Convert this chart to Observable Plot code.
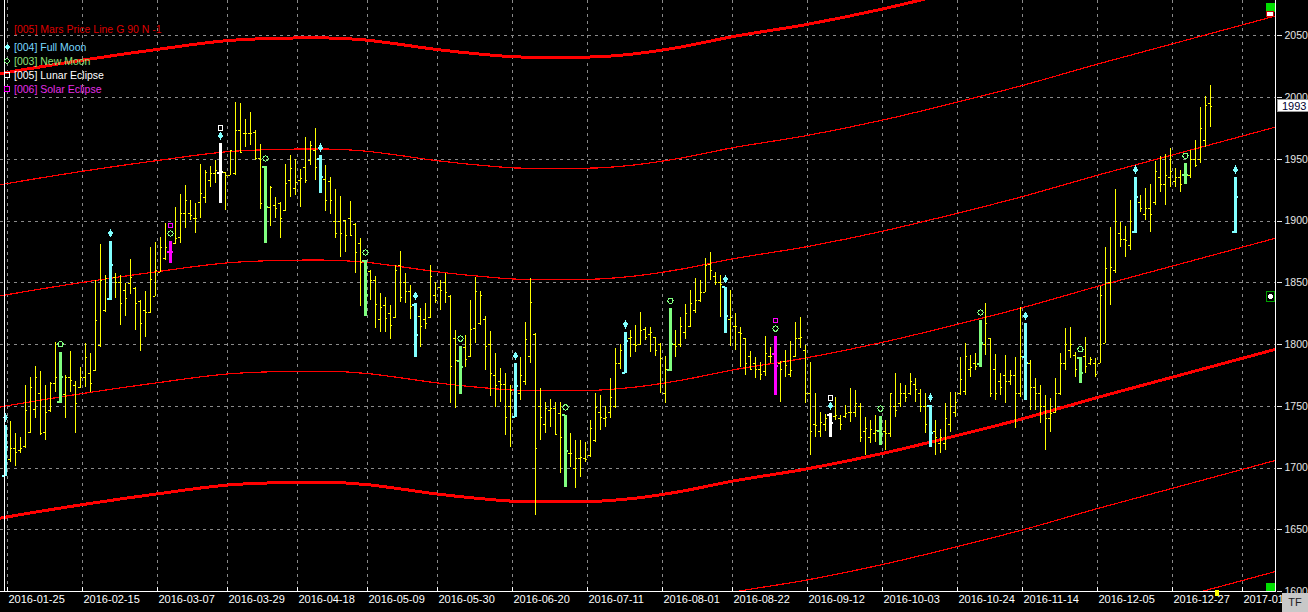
<!DOCTYPE html>
<html><head><meta charset="utf-8">
<script src="https://cdn.jsdelivr.net/npm/d3@7"></script>
<script src="https://cdn.jsdelivr.net/npm/@observablehq/plot@0.6"></script>
<style>
html,body{margin:0;padding:0;background:#000;}
#wrap{position:relative;width:1308px;height:612px;overflow:hidden;background:#000;font-family:"Liberation Sans",Arial,sans-serif;}
#wrap svg{display:block;shape-rendering:crispEdges;}
.lg{position:absolute;left:14px;font-size:10.5px;line-height:14px;white-space:nowrap;}
.mk{position:absolute;left:4px;}
.abs{position:absolute;}
</style></head><body><div id="wrap"></div><script>
// ---- OHLC bars (one per trading day, index 0 = 2016-01-25) ----
const opens = [1693.9,1706.6,1715.6,1714.2,1717.4,1729.1,1747.1,1760.1,1729.1,1746.6,
1768.2,1753.4,1759.6,1773.6,1766.9,1765.5,1773.6,1776.3,1779.0,1799.3,
1827.6,1837.1,1854.6,1850.6,1843.8,1849.2,1845.1,1835.2,1827.6,1826.3,
1839.2,1858.6,1869.5,1874.9,1881.6,1887.0,1905.9,1905.9,1901.8,1915.4,
1919.4,1932.9,1938.3,1938.8,1939.1,1937.0,1938.3,1973.4,1971.2,1971.2,
1972.0,1950.5,1944.2,1911.3,1912.6,1914.5,1908.6,1932.9,1926.2,1932.9,
1943.7,1949.1,1957.2,1950.0,1933.4,1932.0,1900.0,1900.0,1900.5,1902.0,
1897.0,1881.6,1867.6,1859.5,1852.0,1820.0,1831.7,1825.0,1822.0,1864.0,
1850.0,1843.0,1832.2,1823.0,1820.0,1822.0,1840.0,1846.0,1850.0,1839.0,
1805.0,1786.6,1798.0,1790.0,1813.0,1817.0,1820.0,1800.0,1775.0,1770.0,
1768.0,1750.0,1741.7,1760.0,1770.0,1790.0,1808.0,1750.0,1735.0,1747.0,
1748.0,1744.0,1742.6,1712.0,1700.0,1708.0,1708.0,1710.0,1722.0,1745.0,
1740.0,1745.0,1750.0,1785.0,1776.8,1805.0,1800.0,1800.0,1812.0,1808.0,
1806.0,1800.0,1760.0,1779.5,1800.0,1800.0,1810.0,1815.0,1828.0,1836.0,
1842.5,1865.0,1855.0,1850.0,1846.5,1820.0,1815.0,1810.0,1804.7,1790.0,
1785.0,1780.0,1778.0,1790.0,1792.0,1785.0,1786.0,1776.0,1790.0,1805.0,
1795.0,1760.0,1735.0,1730.0,1735.0,1742.6,1742.0,1740.0,1742.0,1745.0,
1745.0,1750.0,1730.0,1725.0,1728.0,1730.4,1730.0,1728.0,1750.0,1752.0,
1760.0,1760.0,1768.0,1760.0,1750.0,1750.1,1730.0,1720.0,1720.0,1735.0,
1745.0,1760.0,1762.0,1780.0,1785.0,1783.9,1800.0,1804.7,1780.0,1770.0,
1775.0,1770.0,1775.0,1760.0,1790.3,1785.0,1765.0,1760.0,1750.0,1740.0,
1745.0,1760.0,1785.0,1795.0,1791.0,1789.3,1790.0,1785.0,1785.0,1785.0,
1800.6,1850.0,1860.0,1890.0,1885.0,1880.0,1891.0,1915.0,1905.0,1910.0,
1915.0,1935.0,1930.0,1935.0,1932.0,1935.0,1937.0,1937.0,1950.0,1950.0,
1965.0,1995.0];
const highs = [1734.4,1737.7,1727.7,1725.0,1766.9,1773.6,1782.2,1778.2,1766.9,1769.6,
1801.4,1793.9,1775.0,1794.4,1770.4,1781.7,1800.6,1792.5,1851.9,1881.1,
1855.9,1883.8,1857.3,1855.9,1849.2,1868.9,1846.5,1835.7,1843.3,1878.9,
1883.0,1887.0,1897.8,1883.5,1911.3,1921.6,1928.9,1916.7,1914.0,1945.9,
1941.0,1944.2,1949.1,1962.6,1939.7,1957.2,1995.8,1995.0,1982.0,1987.7,
1973.4,1962.0,1944.2,1928.0,1919.4,1915.1,1945.9,1953.2,1949.9,1941.5,
1967.5,1964.5,1974.8,1953.0,1945.1,1935.1,1925.3,1920.0,1900.5,1916.0,
1897.8,1885.7,1868.1,1860.0,1855.1,1841.6,1838.4,1831.7,1864.1,1875.4,
1857.8,1848.0,1833.0,1829.0,1833.0,1864.1,1850.6,1852.0,1857.8,1839.7,
1811.4,1798.4,1807.4,1835.7,1854.6,1843.3,1822.7,1810.6,1792.5,1780.3,
1776.3,1766.8,1784.4,1789.8,1818.2,1853.3,1808.7,1764.2,1753.4,1755.2,
1753.4,1753.0,1742.6,1727.7,1722.3,1722.3,1720.9,1738.5,1760.1,1758.7,
1749.9,1772.2,1796.6,1800.0,1810.0,1811.4,1815.5,1826.3,1814.1,1814.0,
1806.0,1801.1,1790.3,1829.0,1811.4,1822.2,1832.5,1843.8,1853.3,1851.9,
1869.5,1874.3,1858.6,1856.0,1846.5,1843.8,1825.4,1814.1,1804.7,1794.7,
1789.8,1785.7,1806.5,1797.9,1806.5,1786.6,1795.2,1802.8,1818.2,1821.7,
1799.3,1785.7,1760.1,1745.3,1743.0,1743.9,1757.4,1742.6,1750.7,1764.2,
1762.8,1752.0,1741.2,1738.5,1742.6,1741.7,1738.5,1760.6,1776.3,1768.8,
1766.9,1776.3,1772.3,1763.3,1760.1,1750.7,1738.5,1730.9,1752.0,1761.5,
1761.5,1789.8,1800.6,1791.2,1793.1,1819.5,1833.0,1804.7,1792.0,1776.3,
1791.2,1779.0,1789.8,1830.3,1816.8,1787.1,1772.2,1766.8,1758.8,1756.1,
1772.2,1792.5,1812.7,1814.1,1793.9,1789.8,1805.5,1789.8,1788.5,1847.0,
1878.9,1895.1,1925.3,1899.2,1895.6,1916.7,1935.1,1920.8,1926.2,1929.7,
1948.6,1952.3,1954.0,1958.6,1942.4,1941.0,1946.4,1957.2,1965.3,1992.3,
2000.9,2009.9];
const lows = [1693.1,1704.8,1701.2,1711.5,1715.6,1727.7,1739.9,1726.4,1722.3,1745.3,
1761.5,1752.0,1740.4,1761.5,1727.7,1764.2,1765.5,1761.5,1778.2,1797.9,
1826.3,1835.7,1837.1,1815.5,1822.7,1840.6,1811.4,1794.7,1806.0,1824.9,
1839.0,1858.6,1868.1,1865.4,1881.1,1881.6,1893.8,1900.5,1890.2,1901.8,
1914.5,1927.5,1930.2,1914.5,1908.6,1937.0,1937.0,1955.0,1959.9,1961.3,
1949.1,1909.1,1881.6,1895.6,1901.8,1885.7,1907.8,1919.4,1920.5,1911.3,
1930.2,1945.1,1932.9,1922.0,1908.0,1905.0,1885.7,1870.3,1874.9,1887.5,
1857.3,1830.8,1822.7,1835.7,1812.7,1810.0,1810.0,1803.8,1820.9,1834.4,
1833.5,1820.0,1789.8,1797.9,1812.0,1820.9,1833.0,1827.6,1833.5,1752.5,
1748.0,1759.3,1781.7,1789.8,1801.1,1815.5,1779.0,1758.0,1749.3,1753.4,
1726.4,1716.9,1741.2,1754.7,1766.8,1784.4,1661.6,1722.3,1727.7,1733.1,
1726.4,1695.3,1684.0,1700.7,1683.2,1692.6,1704.7,1708.8,1721.0,1730.4,
1733.1,1739.9,1748.0,1780.0,1776.3,1789.8,1793.9,1799.3,1803.3,1793.9,
1790.3,1760.0,1752.5,1778.5,1789.8,1797.4,1803.8,1814.1,1825.4,1834.4,
1842.5,1851.9,1847.9,1822.2,1808.7,1798.4,1795.2,1781.2,1775.0,1779.0,
1772.3,1770.9,1774.1,1784.4,1758.8,1753.4,1773.6,1773.6,1789.3,1796.6,
1752.5,1710.2,1725.0,1725.0,1730.0,1725.0,1738.5,1730.4,1739.9,1737.2,
1741.2,1721.0,1710.2,1719.6,1721.0,1718.3,1714.2,1725.0,1741.2,1749.3,
1753.4,1758.8,1753.4,1745.3,1727.7,1716.9,1710.2,1711.5,1714.2,1729.0,
1741.2,1758.8,1758.8,1773.6,1779.0,1781.2,1791.2,1757.4,1754.7,1758.8,
1752.0,1766.8,1731.7,1757.4,1754.7,1746.6,1746.6,1735.8,1714.2,1729.0,
1743.9,1758.8,1779.0,1788.5,1773.6,1768.2,1776.3,1783.0,1773.6,1784.4,
1800.6,1831.7,1857.3,1878.9,1870.8,1876.2,1890.2,1907.3,1900.5,1891.0,
1912.7,1923.4,1912.7,1927.5,1927.5,1923.4,1929.7,1934.3,1943.7,1946.4,
1959.9,1976.1];
const closes = [1716.9,1715.6,1712.9,1715.6,1746.6,1765.5,1773.6,1727.7,1745.3,1768.2,
1773.6,1773.6,1773.6,1770.9,1752.0,1773.6,1789.8,1768.2,1819.5,1851.9,
1853.3,1864.1,1850.6,1833.0,1837.1,1854.6,1833.0,1816.8,1826.3,1852.7,
1860.0,1878.9,1878.9,1874.9,1885.7,1905.9,1916.7,1904.6,1901.8,1922.1,
1939.7,1938.3,1941.0,1939.7,1937.0,1957.2,1973.4,1955.9,1971.2,1970.7,
1950.5,1914.0,1911.3,1927.5,1910.0,1901.8,1930.2,1942.4,1931.6,1934.3,
1932.9,1961.3,1943.7,1936.0,1916.7,1917.0,1890.0,1890.0,1888.4,1888.0,
1874.9,1866.7,1840.3,1851.9,1832.2,1830.0,1820.8,1815.5,1860.0,1838.0,
1843.0,1831.0,1807.4,1815.0,1817.3,1855.0,1835.7,1844.0,1842.4,1782.2,
1787.0,1781.7,1788.0,1812.0,1843.0,1840.0,1798.4,1776.3,1766.8,1768.0,
1741.2,1762.8,1766.8,1775.0,1804.0,1834.4,1715.6,1741.2,1748.0,1748.0,
1727.0,1725.0,1713.7,1711.5,1707.4,1708.8,1707.0,1731.7,1749.3,1741.2,
1741.0,1757.0,1785.0,1795.0,1803.3,1806.0,1799.0,1811.4,1806.0,1810.0,
1795.0,1789.0,1779.5,1800.6,1798.5,1814.6,1825.4,1833.0,1836.0,1842.5,
1864.0,1860.0,1850.0,1849.0,1823.0,1822.2,1814.6,1808.7,1785.0,1780.0,
1780.0,1775.8,1793.0,1790.0,1782.5,1780.0,1783.0,1779.0,1805.0,1805.5,
1760.0,1730.0,1734.5,1737.0,1740.0,1736.3,1742.6,1735.0,1744.0,1745.0,
1752.5,1725.0,1731.7,1730.9,1730.4,1727.7,1728.0,1760.0,1747.0,1760.0,
1757.4,1770.0,1764.0,1750.0,1735.0,1728.2,1725.0,1725.0,1740.0,1750.0,
1753.0,1772.0,1790.0,1781.7,1782.0,1801.1,1816.8,1760.0,1760.0,1765.0,
1770.0,1775.0,1760.0,1790.0,1785.0,1765.0,1760.0,1750.0,1740.0,1743.9,
1760.0,1785.0,1800.0,1800.0,1780.0,1776.8,1782.0,1788.0,1776.0,1840.0,
1862.0,1862.8,1900.0,1885.0,1884.0,1900.0,1919.4,1910.0,1910.0,1905.0,
1940.0,1930.0,1937.0,1940.0,1935.0,1930.0,1937.0,1950.0,1945.0,1975.0,
1994.0,1993.0];
// projected full-moon bar drawn to the right of the last bar
const projIndex = [246];
const projOpen = [1891.0], projHigh = [1935.1], projLow = [1890.2], projClose = [1919.4];

// ---- event days (bar indices) ----
const fullMoon = [0,21,43,63,82,102,124,144,165,185,204,226,246];
const newMoon = [11,33,52,72,91,112,133,154,175,195,215,236];
const lunarEclipse = [43,165];
const solarEclipse = [33,154];

// ---- Mars price line (base harmonic) and its 90-step copies ----
const marsIdx = [-1,0,15.6,30.4,45,54.4,63,72,77.4,86.6,95.4,103.4,116.6,126,135,145,160.4,175.6,189,203.4,218.6,233.4,254.2];
const marsBase = [1659.5,1660.2,1670.5,1679.1,1686.4,1688.1,1688.5,1686.7,1684.0,1678.8,1675.1,1672.9,1672.9,1675.6,1681.0,1689.1,1699.4,1712.0,1725.0,1739.9,1757.4,1773.6,1796.4];
const marsOffsets = [-180,-90,0,90,180,270,360];

// ---- axes ----
const yTicks = [1600,1650,1700,1750,1800,1850,1900,1950,2000,2050];
const xTickIdx = [0.4,15.4,30.4,44.4,58.4,72.4,86.4,101.4,116.4,131.4,145.4,160.4,175.4,190.4,203.4,218.4,233.4,247.4];
const xTickLabels = ["2016-01-25","2016-02-15","2016-03-07","2016-03-29","2016-04-18","2016-05-09","2016-05-30","2016-06-20","2016-07-11","2016-08-01","2016-08-22","2016-09-12","2016-10-03","2016-10-24","2016-11-14","2016-12-05","2016-12-27","2017-01-16"];

// ---- build tables ----
const COL = {plain:"#ffff00", full:"#80ffff", new:"#80ff80", lunar:"#ffffff", solar:"#ff00ff"};
const kindOf = i => lunarEclipse.includes(i) ? "lunar" : solarEclipse.includes(i) ? "solar" : fullMoon.includes(i) ? "full" : newMoon.includes(i) ? "new" : "plain";
const bars = opens.map((o,i) => ({i, o, h: highs[i], l: lows[i], c: closes[i]}));
projIndex.forEach((idx,k) => bars.push({i: idx, o: projOpen[k], h: projHigh[k], l: projLow[k], c: projClose[k]}));
bars.forEach(b => { b.kind = kindOf(b.i); b.color = COL[b.kind]; });
const plain = bars.filter(b => b.kind === "plain");
const special = bars.filter(b => b.kind !== "plain");
const byIdx = new Map(bars.map(b => [b.i, b]));
const fullB = fullMoon.map(i => byIdx.get(i));
const newB = newMoon.map(i => byIdx.get(i));
const lunarB = lunarEclipse.map(i => byIdx.get(i));
const solarB = solarEclipse.map(i => byIdx.get(i));
const mars = marsOffsets.flatMap(off => marsIdx.map((i,k) => ({i, p: marsBase[k] + off, off})));
const marsThin = mars.filter(d => d.off % 360 !== 0);
const marsThick = mars.filter(d => d.off % 360 === 0);
const xLab = xTickIdx.map((x,k) => ({x, t: xTickLabels[k]}));

const xDomain = [-1, 254.2];
const yDomain = [1600, 2078.7];
const GRID = "#8a8a8a";

const chart = Plot.plot({
  width: 1308, height: 612,
  marginTop: 0, marginBottom: 21, marginLeft: 0, marginRight: 32,
  x: {type: "linear", domain: xDomain, axis: null},
  y: {type: "linear", domain: yDomain, axis: null},
  style: {background: "#000", color: "#fff", fontFamily: "'Liberation Sans', Arial, sans-serif", fontSize: "11px", overflow: "hidden"},
  marks: [
    Plot.gridY(yTicks, {stroke: GRID, strokeOpacity: 1, strokeDasharray: "3,4"}),
    Plot.gridX(xTickIdx, {stroke: GRID, strokeOpacity: 1, strokeDasharray: "3,4"}),
    Plot.line(marsThin, {x: "i", y: "p", z: "off", stroke: "#ff0000", strokeWidth: 1.2, curve: "monotone-x", clip: true}),
    Plot.line(marsThick, {x: "i", y: "p", z: "off", stroke: "#ff0000", strokeWidth: 3, curve: "monotone-x", clip: true}),
    // plain OHLC bars
    Plot.ruleX(plain, {x: "i", y1: "l", y2: "h", stroke: COL.plain, strokeWidth: 1}),
    Plot.ruleY(plain, {y: "o", x1: d => d.i - 0.45, x2: "i", stroke: COL.plain, strokeWidth: 1}),
    Plot.ruleY(plain, {y: "c", x1: "i", x2: d => d.i + 0.45, stroke: COL.plain, strokeWidth: 1}),
    // moon / eclipse bars
    Plot.ruleX(special, {x: "i", y1: "l", y2: "h", stroke: "color", strokeWidth: 3}),
    Plot.ruleY(special, {y: "o", x1: d => d.i - 0.6, x2: "i", stroke: "color", strokeWidth: 2}),
    Plot.ruleY(special, {y: "c", x1: "i", x2: d => d.i + 0.6, stroke: "color", strokeWidth: 2}),
    // event markers above the bars
    Plot.dot(fullB, {x: "i", y: "h", dy: -8, symbol: "diamond", r: 2.6, fill: COL.full, stroke: "none"}),
    Plot.dot(newB, {x: "i", y: "h", dy: -8, symbol: "circle", r: 2.6, fill: "none", stroke: COL.new, strokeWidth: 1}),
    Plot.dot(lunarB, {x: "i", y: "h", dy: -16, symbol: "square", r: 2.6, fill: "none", stroke: COL.lunar, strokeWidth: 1.2}),
    Plot.dot(solarB, {x: "i", y: "h", dy: -16, symbol: "square", r: 2.6, fill: "none", stroke: COL.solar, strokeWidth: 1.2}),
    // frame
    Plot.ruleY([yDomain[0]], {stroke: "#ffffff", strokeWidth: 1}),
    Plot.ruleX([-0.2, 254], {stroke: "#ffffff", strokeWidth: 1}),
    // axes
    Plot.axisY({ticks: yTicks, tickFormat: d => String(d), anchor: "right", tickSize: 5, tickPadding: 3, color: "#e6e6e6", fontSize: 10.5}),
    Plot.ruleX(xTickIdx, {y1: yDomain[0], y2: yDomain[0] + 3.3, stroke: "#ffffff"}),
    Plot.text(xLab, {x: "x", text: "t", frameAnchor: "bottom", textAnchor: "start", lineAnchor: "top", dy: 4, dx: 1, fill: "#ffffff"})
  ]
});
const wrap = document.getElementById("wrap");
wrap.appendChild(chart);

// last price box
const lastClose = closes[closes.length - 1];
const yLast = chart.scale("y").apply(lastClose);
const box = document.createElement("div");
box.className = "abs";
box.style.cssText = `left:1277px;top:${yLast - 7}px;width:34px;height:13px;background:#fff;color:#000030;font-size:11px;line-height:13px;padding-left:4px;border:1px solid #9a9a9a;box-sizing:border-box;`;
box.textContent = String(Math.round(lastClose));
wrap.appendChild(box);

// legend
const legend = [
  {t: "[005] Mars Price Line G 90 N -1", c: "#dd0000", top: 22, mk: null},
  {t: "[004] Full Moon", c: "#78d8ff", top: 40, mk: `<polygon points="3,0 6,3 3,6 0,3" fill="#80ffff"/>`},
  {t: "[003] New Moon", c: "#8ee07a", top: 54, mk: `<circle cx="3" cy="3" r="2.3" fill="none" stroke="#80ff80"/>`},
  {t: "[005] Lunar Eclipse", c: "#ffffff", top: 68, mk: `<rect x="0.5" y="0.5" width="5" height="5" fill="none" stroke="#ffffff"/>`},
  {t: "[006] Solar Eclipse", c: "#e62ee6", top: 82, mk: `<rect x="0.5" y="0.5" width="5" height="5" fill="none" stroke="#ff00ff"/>`}
];
legend.forEach(d => {
  const el = document.createElement("div");
  el.className = "lg"; el.style.top = d.top + "px"; el.style.color = d.c; el.textContent = d.t;
  wrap.appendChild(el);
  if (d.mk) {
    const m = document.createElement("div");
    m.className = "mk"; m.style.top = (d.top + 4) + "px";
    m.innerHTML = `<svg width="7" height="7" style="display:block">${d.mk}</svg>`;
    wrap.appendChild(m);
  }
});

// terminal decorations
const deco = [
  "left:1266px;top:3px;width:9px;height:9px;background:#00e000;",
  "left:1266px;top:583px;width:9px;height:8px;background:#00e000;",
  "left:1266px;top:11px;width:8px;height:6px;background:#fff;border:1px solid #c00;box-sizing:border-box;",
  "left:1266px;top:291px;width:9px;height:11px;background:#000;border:1px solid #00a000;box-sizing:border-box;",
  "left:1215px;top:590px;width:4px;height:6px;background:#ffff00;",
  "left:1282px;top:593px;width:26px;height:19px;background:#c8c8c8;color:#202020;font-size:11px;line-height:19px;text-align:center;"
];
deco.forEach((css,k) => {
  const el = document.createElement("div");
  el.className = "abs"; el.style.cssText += css;
  if (k === 3) el.innerHTML = `<svg width="7" height="9" style="display:block"><circle cx="3.5" cy="4.5" r="2.6" fill="#fff"/></svg>`;
  if (k === 5) el.textContent = "TF";
  wrap.appendChild(el);
});
</script></body></html>
